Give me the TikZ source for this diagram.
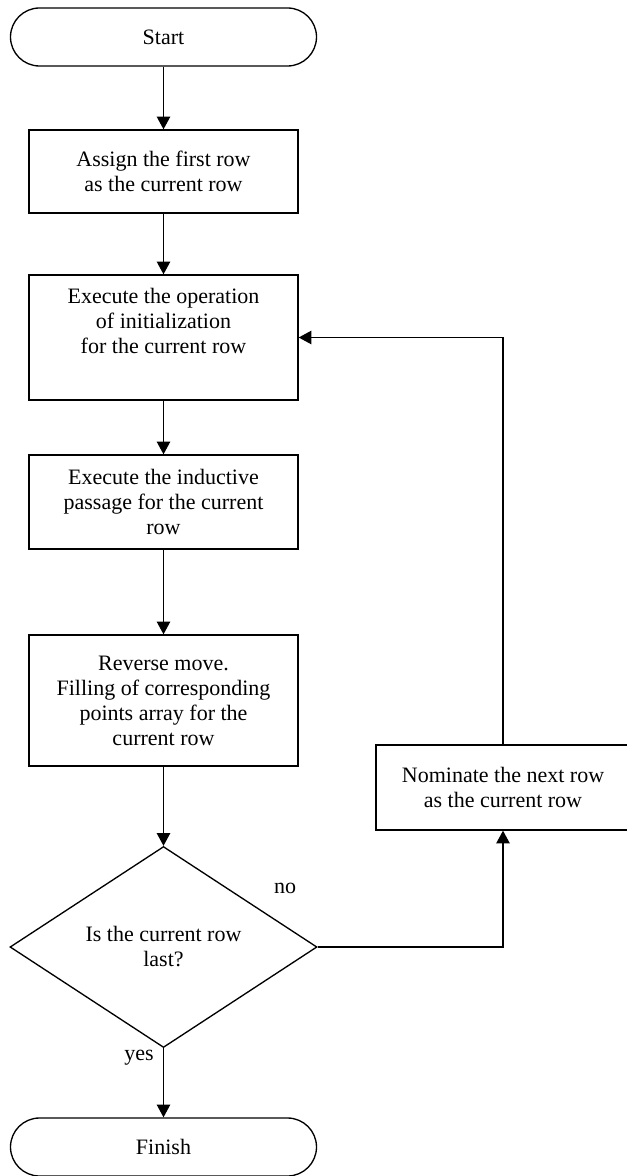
\documentclass[tikz,border=0pt]{standalone}
\usepackage{fontspec}
\setmainfont{Liberation Serif}
\usetikzlibrary{shapes.geometric, arrows.meta}

\begin{document}
\begin{tikzpicture}[x=0.75pt, y=-0.75pt,
		every node/.style={font=\fontsize{16.5}{18.75}\selectfont, align=center},
		term/.style={draw, line width=1pt, rounded corners=21.75pt, minimum width=229.5pt, minimum height=43.5pt},
		proc/.style={draw, line width=1pt, minimum width=201.75pt, inner sep=0pt},
		decide/.style={draw, line width=1pt, diamond, minimum width=230.25pt, minimum height=150.75pt, inner sep=0pt},
		flow/.style={line width=1pt, -{Triangle[width=10pt,length=9.5pt]}}]

		\useasboundingbox (0,0) rectangle (626,1176);

		% Draw the main column of the algorithm
		\node[term] (start) at (163.5,37) {Start};
		\node[proc, minimum height=62.25pt] (first) at (163.5,171.5) {Assign the first row\\as the current row};
		\node[proc, minimum height=93.75pt] (init) at (163.5,337.5) {Execute the operation\\of initialization\\for the current row\\\strut};
		\node[proc, minimum height=70.5pt] (induct) at (163.5,502) {Execute the inductive\\passage for the current\\row};
		\node[proc, minimum height=98.25pt] (reverse) at (163.5,700.5) {Reverse move.\\Filling of corresponding\\points array for the\\current row};
		\node[decide] (last) at (163.5,947) {Is the current row\\last?};
		\node[term] (finish) at (163.5,1147) {Finish};

		% Draw the box on the right side (next row)
		\node[proc, minimum width=190.5pt, minimum height=63.75pt] (next) at (503,787.5) {Nominate the next row\\as the current row};

		% Draw the branch labels
		\node (no) at (285,888) {no};
		\node (yes) at (139,1058) {yes};

		% Draw the arrows
		\draw[flow] (start) -- (first);
		\draw[flow] (first) -- (init);
		\draw[flow] (init) -- (induct);
		\draw[flow] (induct) -- (reverse);
		\draw[flow] (reverse) -- (last);
		\draw[flow] (last) -- (finish);
		\draw[flow] (last.east) -| (next.south);
		\draw[flow] (next.north) |- (init.east);

	\end{tikzpicture}
\end{document}
